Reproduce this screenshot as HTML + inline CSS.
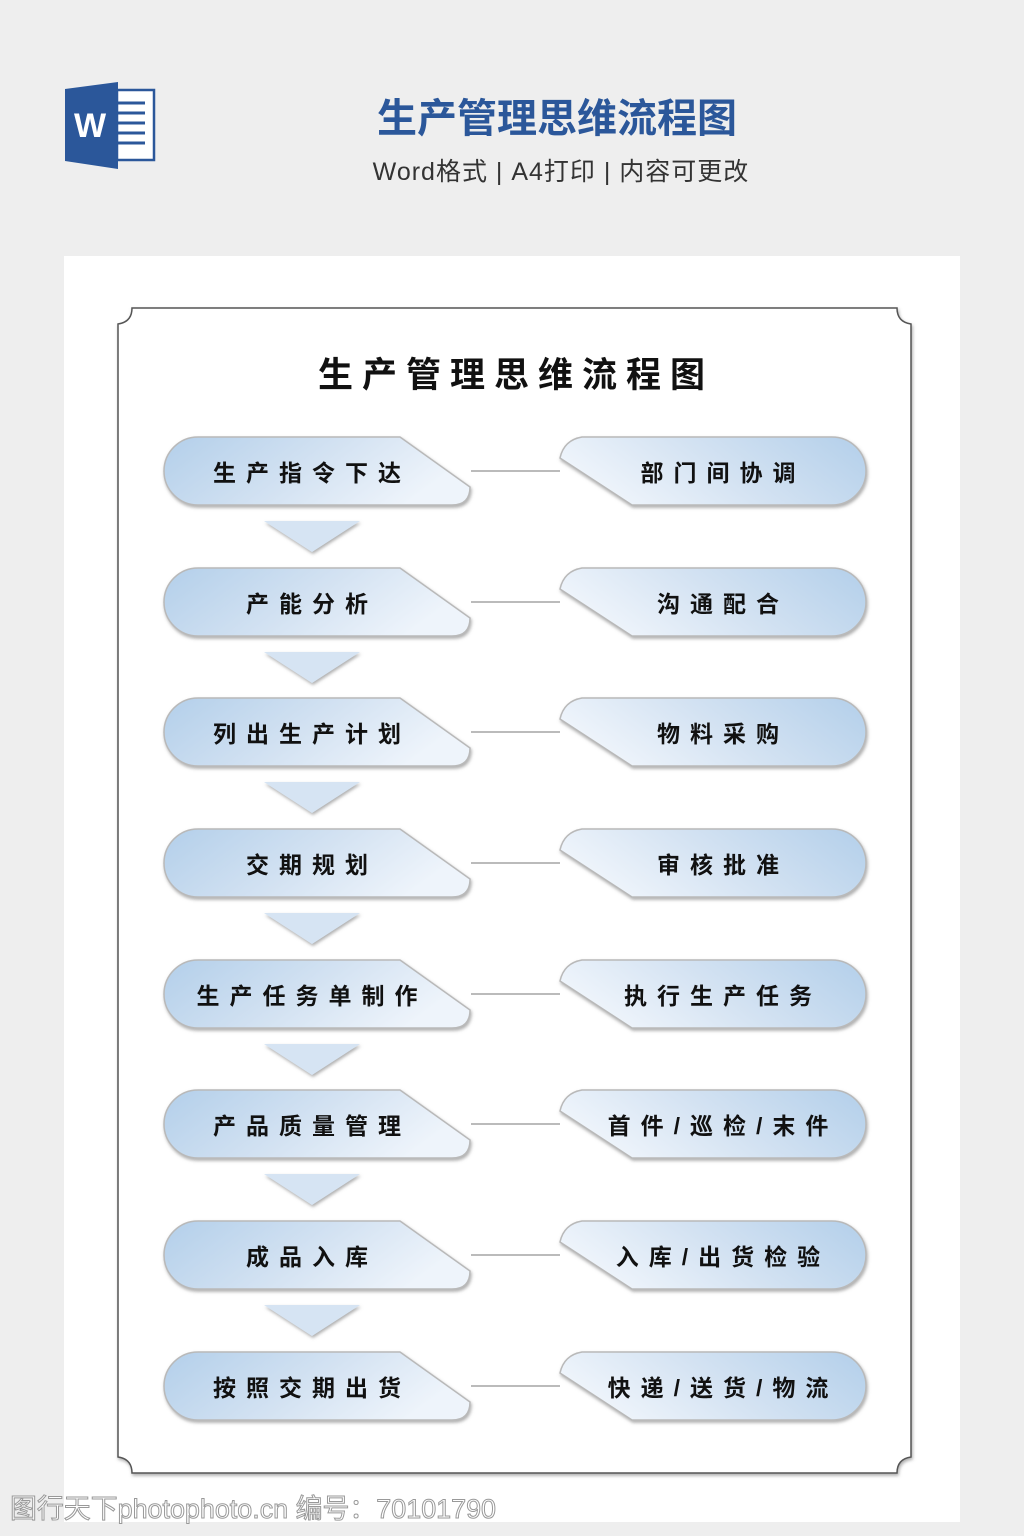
<!DOCTYPE html>
<html><head><meta charset="utf-8"><style>
html,body{margin:0;padding:0;background:#eeeeee;}
svg{display:block;}
text{font-family:"Liberation Sans","Noto Sans CJK SC",sans-serif;}
</style></head><body>
<svg width="1024" height="1536" viewBox="0 0 1024 1536" xmlns="http://www.w3.org/2000/svg">
<defs>
<linearGradient id="gl" x1="0" y1="0" x2="1" y2="0.3">
<stop offset="0" stop-color="#b3cfea"/><stop offset="0.55" stop-color="#d3e2f2"/><stop offset="1" stop-color="#eef4fb"/></linearGradient>
<linearGradient id="gr" x1="0" y1="0.3" x2="1" y2="0">
<stop offset="0" stop-color="#eef4fb"/><stop offset="0.45" stop-color="#d3e2f2"/><stop offset="1" stop-color="#b3cfea"/></linearGradient>
<filter id="sh" x="-10%" y="-20%" width="120%" height="150%"><feDropShadow dx="1" dy="2" stdDeviation="1.5" flood-color="#777" flood-opacity="0.6"/></filter>
<g id="L"><path d="M198,437 L400,437 L470,487 Q470,505 452,505 L198,505 A34,34 0 0 1 198,437 Z" fill="url(#gl)" stroke="#b9b9b9" stroke-width="1.5" filter="url(#sh)"/></g>
<g id="R"><path d="M582,437 L832,437 A34,34 0 0 1 832,505 L632,505 L560,458 Q564,440 582,437 Z" fill="url(#gr)" stroke="#b9b9b9" stroke-width="1.5" filter="url(#sh)"/></g>
<g id="C"><line x1="471" y1="471" x2="560" y2="471" stroke="#777" stroke-width="1"/></g>
<g id="A"><path d="M264,521 L360,521 L312,552 Z" fill="#d6e4f3" filter="url(#sh)"/></g>
</defs>
<rect x="0" y="0" width="1024" height="1536" fill="#eeeeee"/>
<rect x="117" y="90" width="37" height="70" fill="#fff" stroke="#2b579a" stroke-width="2.5"/>
<g stroke="#2b579a" stroke-width="3"><line x1="117" y1="103" x2="145" y2="103"/><line x1="117" y1="113" x2="145" y2="113"/><line x1="117" y1="123" x2="145" y2="123"/><line x1="117" y1="133" x2="145" y2="133"/><line x1="117" y1="143" x2="145" y2="143"/></g>
<path d="M65,89 L118,82 L118,169 L65,161 Z" fill="#2b579a"/>
<text x="90" y="137" font-size="34" font-weight="bold" fill="#fff" text-anchor="middle">W</text>
<text x="557" y="132" font-size="40" font-weight="bold" fill="#2b579a" text-anchor="middle">生产管理思维流程图</text>
<text x="561" y="180" font-size="25" fill="#333" text-anchor="middle" letter-spacing="1">Word格式 | A4打印 | 内容可更改</text>
<rect x="64" y="256" width="896" height="1266" fill="#fff"/>
<path d="M132,308 L897,308 Q897,322 911,324 L911,1457 Q897,1459 897,1473 L132,1473 Q132,1459 118,1457 L118,324 Q132,322 132,308 Z" fill="#fff" stroke="#555" stroke-width="1.5" filter="url(#sh)"/>
<text x="516" y="387" font-size="35" font-weight="bold" fill="#111" text-anchor="middle" letter-spacing="9">生产管理思维流程图</text>
<g font-size="23" font-weight="bold" fill="#111" text-anchor="middle" letter-spacing="10">
<g transform="translate(0,0)"><use href="#L"/><use href="#R"/><use href="#C"/><use href="#A"/><text x="312" y="481">生产指令下达</text><text x="723" y="481">部门间协调</text></g>
<g transform="translate(0,131)"><use href="#L"/><use href="#R"/><use href="#C"/><use href="#A"/><text x="312" y="481">产能分析</text><text x="723" y="481">沟通配合</text></g>
<g transform="translate(0,261)"><use href="#L"/><use href="#R"/><use href="#C"/><use href="#A"/><text x="312" y="481">列出生产计划</text><text x="723" y="481">物料采购</text></g>
<g transform="translate(0,392)"><use href="#L"/><use href="#R"/><use href="#C"/><use href="#A"/><text x="312" y="481">交期规划</text><text x="723" y="481">审核批准</text></g>
<g transform="translate(0,523)"><use href="#L"/><use href="#R"/><use href="#C"/><use href="#A"/><text x="312" y="481">生产任务单制作</text><text x="723" y="481">执行生产任务</text></g>
<g transform="translate(0,653)"><use href="#L"/><use href="#R"/><use href="#C"/><use href="#A"/><text x="312" y="481">产品质量管理</text><text x="723" y="481">首件/巡检/末件</text></g>
<g transform="translate(0,784)"><use href="#L"/><use href="#R"/><use href="#C"/><use href="#A"/><text x="312" y="481">成品入库</text><text x="723" y="481">入库/出货检验</text></g>
<g transform="translate(0,915)"><use href="#L"/><use href="#R"/><use href="#C"/><text x="312" y="481">按照交期出货</text><text x="723" y="481">快递/送货/物流</text></g>
</g>
<text x="10" y="1518" font-size="27" fill="#fff" stroke="#999" stroke-width="1" textLength="486" lengthAdjust="spacingAndGlyphs">图行天下photophoto.cn 编号：70101790</text>
</svg>
</body></html>
